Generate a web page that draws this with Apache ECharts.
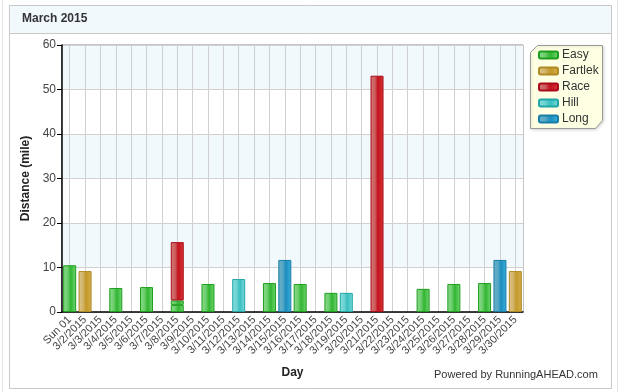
<!DOCTYPE html>
<html>
<head>
<meta charset="utf-8">
<script src="https://cdn.jsdelivr.net/npm/echarts@6/dist/echarts.min.js"></script>
<style>
html,body{margin:0;padding:0;background:#fff;}
#chart{width:620px;height:392px;}
</style>
</head>
<body>
<div id="chart"></div>
<script>
var categories = ['Sun 01','3/2/2015','3/3/2015','3/4/2015','3/5/2015','3/6/2015','3/7/2015','3/8/2015','3/9/2015','3/10/2015',
  '3/11/2015','3/12/2015','3/13/2015','3/14/2015','3/15/2015','3/16/2015','3/17/2015','3/18/2015','3/19/2015','3/20/2015',
  '3/21/2015','3/22/2015','3/23/2015','3/24/2015','3/25/2015','3/26/2015','3/27/2015','3/28/2015','3/29/2015','3/30/2015'];
var easy    = [10.5,null,null,5.4,null,5.6,null,1.6,null,6.3, null,null,null,6.5,null,6.3,null,4.3,null,null, null,null,null,5.2,null,6.3,null,6.5,null,null];
var easy2   = [null,null,null,null,null,null,null,1.0,null,null, null,null,null,null,null,null,null,null,null,null, null,null,null,null,null,null,null,null,null,null];
var fartlek = [null,9.2,null,null,null,null,null,null,null,null, null,null,null,null,null,null,null,null,null,null, null,null,null,null,null,null,null,null,null,9.2];
var race    = [null,null,null,null,null,null,null,13.1,null,null, null,null,null,null,null,null,null,null,null,null, 53.1,null,null,null,null,null,null,null,null,null];
var hill    = [null,null,null,null,null,null,null,null,null,null, null,7.4,null,null,null,null,null,null,4.3,null, null,null,null,null,null,null,null,null,null,null];
var longRun = [null,null,null,null,null,null,null,null,null,null, null,null,null,null,11.7,null,null,null,null,null, null,null,null,null,null,null,null,null,11.7,null];
var yTicks = [0,10,20,30,40,50,60];

function grad(c0,c1,c2,c3){
  return {type:'linear',x:0,y:0,x2:1,y2:0,colorStops:[
    {offset:0,color:c0},{offset:0.35,color:c1},{offset:0.55,color:c2},{offset:0.62,color:c2},{offset:1,color:c3}]};
}
var styles = {
  Easy:    {color:grad('#8ddc8d','#6ccd6c','#36b836','#78d678'), borderColor:'#1c9e1c'},
  Fartlek: {color:grad('#dcc690','#d2b469','#c49a2c','#d6b050'), borderColor:'#b08a22'},
  Race:    {color:grad('#d27a7a','#cc5c5c','#c41620','#d83838'), borderColor:'#a80c18'},
  Hill:    {color:grad('#88dcdc','#6cd2d2','#3cc0c0','#80dcdc'), borderColor:'#20a6a6'},
  Long:    {color:grad('#6aaec6','#58a8c4','#1f90c0','#3cb0dc'), borderColor:'#177ea8'}
};
function mk(name, data){
  return {name:name,type:'bar',stack:'t',data:data,barWidth:13,xAxisIndex:0,yAxisIndex:0,z:5,
    itemStyle:{color:styles[name].color,borderColor:styles[name].borderColor,borderWidth:1},
    emphasis:{disabled:true}};
}
var font = 'Liberation Sans, Arial, sans-serif';
var gl = 62, gr = 97, pw = 620 - gl - gr, half = pw / categories.length / 2;
var chart = echarts.init(document.getElementById('chart'));
chart.setOption({
  animation:false,
  textStyle:{fontFamily:font},
  graphic:[
    {type:'line',z:-100,shape:{x1:2.5,y1:0,x2:2.5,y2:392},style:{stroke:'#e4e4e4',lineWidth:1}},
    {type:'line',z:-100,shape:{x1:617.5,y1:0,x2:617.5,y2:392},style:{stroke:'#e4e4e4',lineWidth:1}},
    {type:'rect',z:-100,shape:{x:9.5,y:5.5,width:602,height:383},style:{fill:'#fff',stroke:'#c8c8c8',lineWidth:1}},
    {type:'rect',z:-99,shape:{x:10,y:6,width:601,height:27},style:{fill:'#f2f9fd'}},
    {type:'line',z:-99,shape:{x1:10,y1:33.5,x2:611,y2:33.5},style:{stroke:'#c8c8c8',lineWidth:1}},
    {type:'text',z:10,left:22,top:13,style:{text:'March 2015',font:'bold 12px '+font,fill:'#333'}},
    {type:'polygon',z:-50,shape:{points:[[537.5,45.5],[602.5,45.5],[602.5,120.5],[595.5,128.5],[530.5,128.5],[530.5,52.5]]},
      style:{fill:'#ffffe4',stroke:'#999',lineWidth:1,shadowBlur:3,shadowColor:'rgba(0,0,0,0.15)',shadowOffsetX:1,shadowOffsetY:1}},
    {type:'text',z:10,left:434,top:369,style:{text:'Powered by RunningAHEAD.com',font:'11px '+font,fill:'#333'}}
  ],
  legend:{
    orient:'vertical',left:533,top:44,itemWidth:19,itemHeight:7,itemGap:4,
    icon:'roundRect',
    data:['Easy','Fartlek','Race','Hill','Long'],
    textStyle:{fontSize:12,color:'#333',fontFamily:font,padding:[0,0,0,-1]},
    selectedMode:false
  },
  grid:[
    {left:gl,right:gr,top:45,bottom:80,show:true,borderColor:'#8c8c8c',borderWidth:1,backgroundColor:'transparent'},
    {left:gl+half,right:gr+half,top:45,bottom:80,show:false}
  ],
  xAxis:[{
    type:'category',data:categories,gridIndex:0,z:3,
    name:'Day',nameLocation:'middle',nameGap:55,
    nameTextStyle:{fontWeight:'bold',fontSize:12,color:'#222'},
    axisLine:{lineStyle:{color:'#000',width:1.5}},
    axisTick:{alignWithLabel:true,length:5,lineStyle:{color:'#000'}},
    axisLabel:{interval:0,rotate:45,fontSize:11,color:'#444',margin:6},
    splitLine:{show:false}
  },{
    type:'category',data:categories,gridIndex:1,boundaryGap:false,z:1,
    axisLine:{show:false},axisTick:{show:false},axisLabel:{show:false},
    splitLine:{show:true,interval:0,lineStyle:{color:'#d0d0d0'}}
  }],
  yAxis:[{
    type:'value',min:0,max:60,interval:10,gridIndex:0,z:0,
    name:'Distance (mile)',nameLocation:'middle',nameGap:24,
    nameTextStyle:{fontWeight:'bold',fontSize:12,color:'#222'},
    axisLine:{show:true,lineStyle:{color:'#000',width:1.5}},
    axisTick:{show:true,length:5,lineStyle:{color:'#000'}},
    axisLabel:{fontSize:12,color:'#444',margin:6,formatter:function(v){return yTicks.indexOf(v)>=0?String(v):'';}},
    splitLine:{show:true,lineStyle:{color:'#d0d0d0'}},
    splitArea:{show:true,areaStyle:{color:['#ffffff','#f2f9fd']}}
  },{
    type:'value',min:0,max:60,interval:10,gridIndex:1,show:false
  }],
  series:[
    mk('Easy',easy),
    mk('Easy',easy2),
    mk('Fartlek',fartlek),
    mk('Race',race),
    mk('Hill',hill),
    mk('Long',longRun)
  ]
});
</script>
</body>
</html>
